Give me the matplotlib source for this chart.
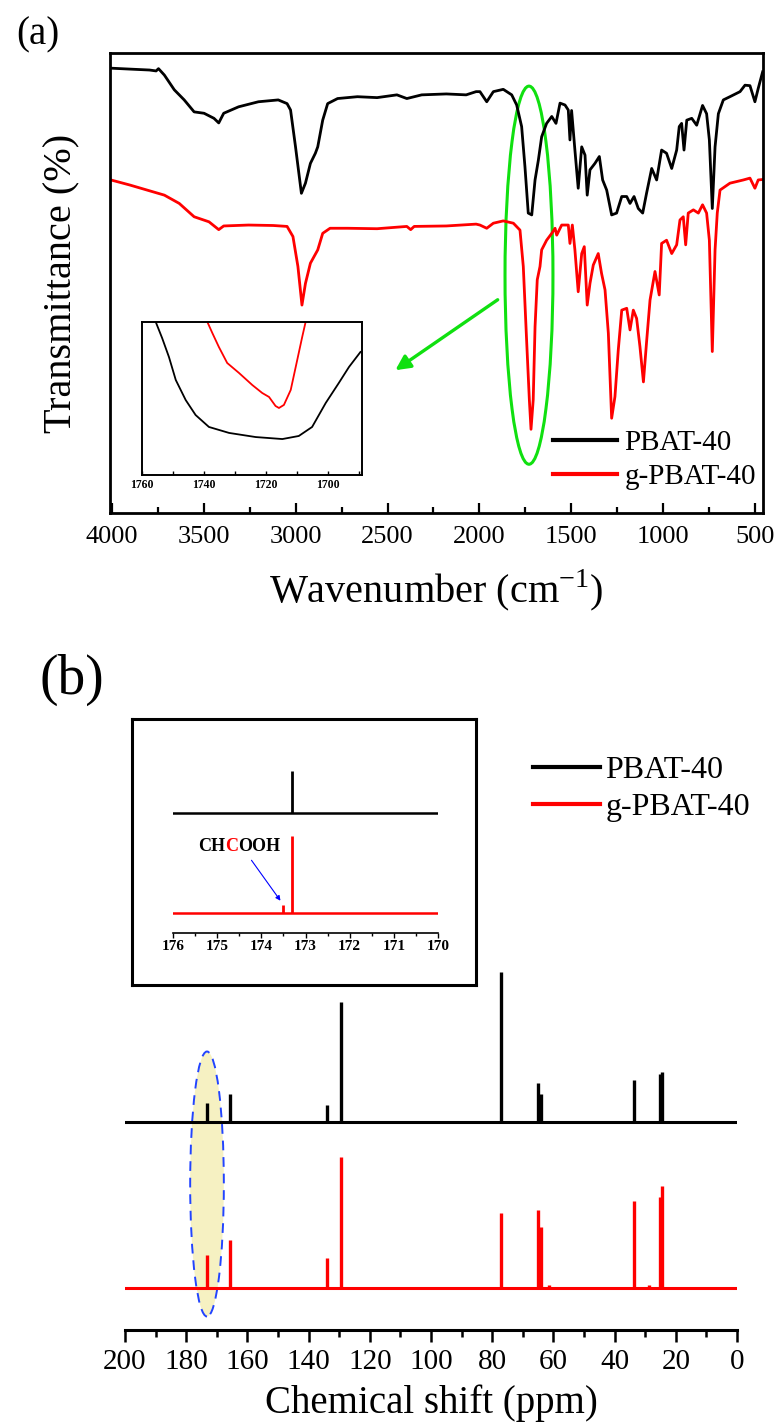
import matplotlib
matplotlib.use("Agg")
import matplotlib.pyplot as plt
from matplotlib.patches import Ellipse
from matplotlib.ticker import MultipleLocator

plt.rcParams['font.family'] = ['Liberation Serif', 'DejaVu Serif']
plt.rcParams['mathtext.fontset'] = 'custom'
plt.rcParams['mathtext.rm'] = 'Liberation Serif'

W, H = 779, 1428

# ---- (a) FTIR, transmittance in arbitrary units (0 = bottom, 100 = top of frame)
pbat_wn = [4006, 3903, 3796, 3760, 3747, 3715, 3661, 3607, 3553, 3499, 3445, 3419, 3392,
           3311, 3203, 3095, 3047, 3028, 3001, 2969, 2947, 2920, 2893, 2880, 2853, 2826,
           2772, 2664, 2557, 2449, 2395, 2314, 2180, 2072, 2018, 1997, 1960, 1924, 1870,
           1824, 1797, 1770, 1752, 1734, 1715, 1697, 1679, 1661, 1634, 1606, 1583, 1561,
           1534, 1516, 1507, 1498, 1480, 1462, 1443, 1425, 1413, 1398, 1371, 1347, 1329,
           1307, 1280, 1253, 1225, 1198, 1180, 1158, 1135, 1111, 1090, 1062, 1035, 1008,
           981, 953, 926, 912, 899, 886, 871, 844, 817, 785, 763, 748, 732, 717, 699, 672,
           636, 581, 554, 527, 500, 482, 458]
pbat_t = [96.7, 96.5, 96.3, 96.1, 96.6, 95.2, 92.0, 89.8, 87.2, 86.9, 85.8, 84.8, 86.9,
          88.3, 89.4, 89.8, 89.0, 87.6, 79.6, 69.5, 71.7, 76.0, 78.2, 79.6, 85.4, 89.0,
          90.1, 90.5, 90.3, 90.9, 90.1, 90.9, 91.1, 90.9, 91.6, 91.6, 89.4, 91.6, 92.1,
          90.9, 88.7, 84.0, 75.3, 65.2, 64.8, 72.4, 76.7, 81.8, 84.7, 86.2, 84.7, 89.1,
          88.7, 87.6, 81.1, 87.5, 78.9, 70.6, 79.6, 77.8, 69.1, 74.6, 76.0, 77.5, 72.4,
          70.2, 64.8, 65.2, 68.8, 68.8, 67.3, 68.8, 66.2, 65.2, 69.5, 74.9, 72.4, 78.9,
          78.2, 74.9, 78.9, 84.0, 84.7, 78.9, 85.4, 85.8, 84.3, 88.6, 86.8, 81.1, 66.2,
          79.6, 86.8, 89.8, 90.5, 91.6, 93.0, 92.9, 89.4, 92.3, 95.9]

gpbat_wn = [4006, 3903, 3715, 3634, 3553, 3472, 3419, 3392, 3257, 3122, 3047, 3015, 2988,
            2966, 2947, 2920, 2880, 2853, 2813, 2718, 2557, 2395, 2374, 2355, 2180, 2018,
            1997, 1960, 1924, 1870, 1815, 1779, 1761, 1743, 1728, 1719, 1707, 1697, 1685,
            1670, 1661, 1634, 1606, 1588, 1579, 1552, 1516, 1507, 1494, 1480, 1462, 1443,
            1429, 1413, 1398, 1380, 1353, 1335, 1316, 1298, 1280, 1262, 1244, 1225, 1198,
            1180, 1162, 1144, 1126, 1107, 1089, 1071, 1044, 1021, 1008, 981, 953, 926, 908,
            890, 877, 863, 835, 808, 785, 763, 748, 732, 717, 705, 690, 636, 563, 527, 500,
            482, 458]
gpbat_t = [72.4, 71.3, 69.1, 67.3, 64.4, 63.3, 61.6, 62.4, 62.6, 62.5, 62.3, 60.1, 53.6,
           45.2, 49.9, 54.3, 57.2, 60.8, 61.9, 61.9, 61.8, 62.3, 61.6, 62.3, 62.4, 62.8,
           62.6, 61.9, 63.0, 63.5, 63.0, 61.5, 53.6, 37.6, 24.6, 18.2, 24.6, 40.5, 50.7,
           53.6, 57.2, 59.3, 60.8, 61.9, 60.4, 62.6, 62.6, 58.6, 62.6, 57.2, 48.1, 56.4,
           57.9, 45.2, 49.9, 53.9, 56.4, 52.1, 48.5, 39.1, 20.6, 25.3, 35.4, 44.1, 44.5,
           39.8, 44.1, 42.3, 36.2, 28.5, 37.6, 46.3, 52.5, 47.4, 58.6, 59.3, 56.4, 58.3, 63.7,
           64.4, 58.3, 65.2, 65.9, 65.2, 67.0, 65.2, 59.3, 35.1, 57.2, 65.2, 70.2, 71.7, 72.4,
           72.8, 70.6, 72.4, 72.5]

# inset of (a): carbonyl region
ins_pbat_wn = [1758, 1755.6, 1753.5, 1751.3, 1749.1, 1745.9, 1742.7, 1738.4, 1731.9, 1723.3,
               1714.7, 1709.4, 1705.1, 1700.7, 1696.5, 1693.2, 1689.5]
ins_pbat_t = [110, 100.2, 89.5, 77.1, 62.1, 49.0, 39.2, 31.4, 27.5, 24.8, 23.5, 25.5, 31.4,
              47.1, 60.1, 70.6, 80.4]
ins_gpbat_wn = [1740, 1738.9, 1737.3, 1735.2, 1732.5, 1728.7, 1724.4, 1721.2, 1719.0, 1716.9,
                1715.8, 1714.2, 1712.0, 1709.9, 1708.3, 1707.2, 1706.8]
ins_gpbat_t = [110, 100, 92.8, 83.7, 73.2, 66.7, 58.8, 53.6, 51.0, 45.1, 43.8, 45.8, 55.6,
               75.2, 90.2, 100, 106]

# ---- (b) 13C NMR peaks (ppm, height in arbitrary units)
nmr_range = [200, 0]
pbat_ppm = [173.3, 165.6, 133.9, 129.4, 77.1, 64.9, 63.9, 33.8, 25.3, 24.4]
pbat_h = [19, 28, 17, 120, 150, 39, 28, 42, 48, 50]
gpbat_ppm = [173.3, 165.6, 133.9, 129.4, 77.1, 64.9, 63.9, 61.6, 33.8, 28.6, 25.3, 24.4]
gpbat_h = [33, 48, 30, 131, 75, 78, 61, 3, 87, 3, 91, 102]
pbat_base, gpbat_base = 208, 42

ins_range = [176, 170]
ins_pbat_ppm = [173.3]
ins_pbat_h = [42]
ins_gpbat_ppm = [173.3, 173.52]
ins_gpbat_h = [77, 8]
ins_pbat_base, ins_gpbat_base = 120, 20

labels = ['PBAT-40', 'g-PBAT-40']
green = '#10e010'


def px_box(l, t, r, b):
    return [l / W, 1 - b / H, (r - l) / W, (b - t) / H]


def only_bottom(ax):
    for s in ['top', 'left', 'right']:
        ax.spines[s].set_visible(False)
    ax.set_yticks([])


def panel_a(fig):
    ax = fig.add_axes(px_box(110, 53, 763, 513))
    ax.plot(pbat_wn, pbat_t, color='black', lw=2.0, label=labels[0])
    ax.plot(gpbat_wn, gpbat_t, color='red', lw=2.0, label=labels[1])
    ax.set_xlim(4011, 456)
    ax.set_ylim(0, 100)
    ax.set_yticks([])
    ax.xaxis.set_major_locator(MultipleLocator(500))
    ax.xaxis.set_minor_locator(MultipleLocator(250))
    ax.tick_params(axis='x', which='major', direction='in', length=7, width=1.6,
                   labelsize=19, pad=9)
    ax.tick_params(axis='x', which='minor', direction='in', length=4, width=1.6)
    for s in ax.spines.values():
        s.set_linewidth(2.0)
    ax.set_xlabel('Wavenumber (cm$^{-1}$)', fontsize=29)
    ax.xaxis.label.set_va('center')
    ax.xaxis.set_label_coords(0.5, (513 - 590) / 460)
    ax.set_ylabel('Transmittance (%)', fontsize=29)
    ax.yaxis.label.set_va('center')
    ax.yaxis.set_label_coords((62 - 110) / 653, 0.5)

    ax.add_patch(Ellipse((1730, 51.7), 261, 82.2, fill=False, ec=green, lw=2.2))
    ax.annotate('', xy=(2470, 30.7), xytext=(1888, 46.7),
                arrowprops=dict(arrowstyle='-|>', color=green, lw=2.4, mutation_scale=22))

    leg = ax.legend(loc='center left', bbox_to_anchor=(553 / W, 1 - 460 / H),
                    bbox_transform=fig.transFigure, frameon=False, fontsize=21,
                    handlelength=2.2, handletextpad=0.25, labelspacing=0.26,
                    borderpad=0, borderaxespad=0)
    for ln in leg.get_lines():
        ln.set_linewidth(3)

    ins = fig.add_axes(px_box(142, 322, 362, 475))
    ins.plot(ins_pbat_wn, ins_pbat_t, color='black', lw=1.3)
    ins.plot(ins_gpbat_wn, ins_gpbat_t, color='red', lw=1.3)
    ins.set_xlim(1760, 1689)
    ins.set_ylim(0, 100)
    ins.set_yticks([])
    ins.xaxis.set_major_locator(MultipleLocator(20))
    ins.xaxis.set_minor_locator(MultipleLocator(10))
    ins.tick_params(axis='x', which='both', direction='in', length=3, width=1.0,
                    labelsize=8.5, pad=3)
    for t in ins.get_xticklabels():
        t.set_fontweight('bold')
    for s in ins.spines.values():
        s.set_linewidth(1.4)

    fig.text(38 / W, 1 - 35 / H, '(a)', fontsize=28, ha='center', va='center')


def panel_b(fig):
    ax = fig.add_axes(px_box(125, 700, 737, 1330))
    only_bottom(ax)
    ax.add_patch(Ellipse((173.2, 146), 11, 265, fc='#f6f1c2', ec='#2244ff', lw=1.4,
                         ls=(0, (5, 3.5)), zorder=0))
    ax.plot(nmr_range, [pbat_base] * 2, color='black', lw=2.2, label=labels[0])
    ax.vlines(pbat_ppm, pbat_base, [pbat_base + h for h in pbat_h], color='black', lw=2.4)
    ax.plot(nmr_range, [gpbat_base] * 2, color='red', lw=2.2, label=labels[1])
    ax.vlines(gpbat_ppm, gpbat_base, [gpbat_base + h for h in gpbat_h], color='red', lw=2.4)
    ax.set_xlim(200, 0)
    ax.set_ylim(0, 630)
    ax.xaxis.set_major_locator(MultipleLocator(20))
    ax.xaxis.set_minor_locator(MultipleLocator(10))
    ax.tick_params(axis='x', which='major', direction='out', length=8.5, width=1.8,
                   labelsize=21, pad=5)
    ax.tick_params(axis='x', which='minor', direction='out', length=5, width=1.8)
    ax.spines['bottom'].set_linewidth(2.2)
    ax.set_xlabel('Chemical shift (ppm)', fontsize=28)
    ax.xaxis.label.set_va('center')
    ax.xaxis.set_label_coords(0.5, (1330 - 1403) / 630)

    leg = ax.legend(loc='center left', bbox_to_anchor=(533 / W, 1 - 789 / H),
                    bbox_transform=fig.transFigure, frameon=False, fontsize=23,
                    handlelength=2.1, handletextpad=0.16, labelspacing=0.23,
                    borderpad=0, borderaxespad=0)
    for ln in leg.get_lines():
        ln.set_linewidth(3)

    frame = fig.add_axes(px_box(132, 719, 476, 985))
    frame.set_xticks([])
    frame.set_yticks([])
    frame.patch.set_alpha(0)
    for s in frame.spines.values():
        s.set_linewidth(2.2)

    ins = fig.add_axes(px_box(173, 730, 438, 933))
    only_bottom(ins)
    ins.patch.set_alpha(0)
    ins.plot(ins_range, [ins_pbat_base] * 2, color='black', lw=1.8)
    ins.vlines(ins_pbat_ppm, ins_pbat_base, [ins_pbat_base + h for h in ins_pbat_h],
               color='black', lw=2.0)
    ins.plot(ins_range, [ins_gpbat_base] * 2, color='red', lw=1.8)
    ins.vlines(ins_gpbat_ppm, ins_gpbat_base, [ins_gpbat_base + h for h in ins_gpbat_h],
               color='red', lw=2.0)
    ins.set_xlim(176, 170)
    ins.set_ylim(0, 203)
    ins.xaxis.set_major_locator(MultipleLocator(1))
    ins.xaxis.set_minor_locator(MultipleLocator(0.5))
    ins.tick_params(axis='x', which='major', direction='out', length=3.5, width=1.0,
                    labelsize=11, pad=1.5)
    ins.tick_params(axis='x', which='minor', direction='out', length=2, width=1.0)
    ins.spines['bottom'].set_linewidth(1.2)
    for t in ins.get_xticklabels():
        t.set_fontweight('bold')

    t1 = ins.text(175.43, 78, 'CH', fontsize=13, fontweight='bold', va='bottom', ha='left')
    t2 = ins.annotate('C', xy=(1, 0), xycoords=t1, fontsize=13, fontweight='bold',
                      color='red', va='bottom', ha='left')
    ins.annotate('OOH', xy=(1, 0), xycoords=t2, fontsize=13, fontweight='bold',
                 va='bottom', ha='left')
    ins.annotate('', xy=(173.53, 30), xytext=(174.26, 75),
                 arrowprops=dict(arrowstyle='-|>', color='blue', lw=0.8, mutation_scale=7))

    fig.text(72 / W, 1 - 680 / H, '(b)', fontsize=40, ha='center', va='center')


def main():
    fig = plt.figure(figsize=(W / 100, H / 100), dpi=100)
    panel_a(fig)
    panel_b(fig)
    fig.savefig('out.png', dpi=100, facecolor='white')


main()
